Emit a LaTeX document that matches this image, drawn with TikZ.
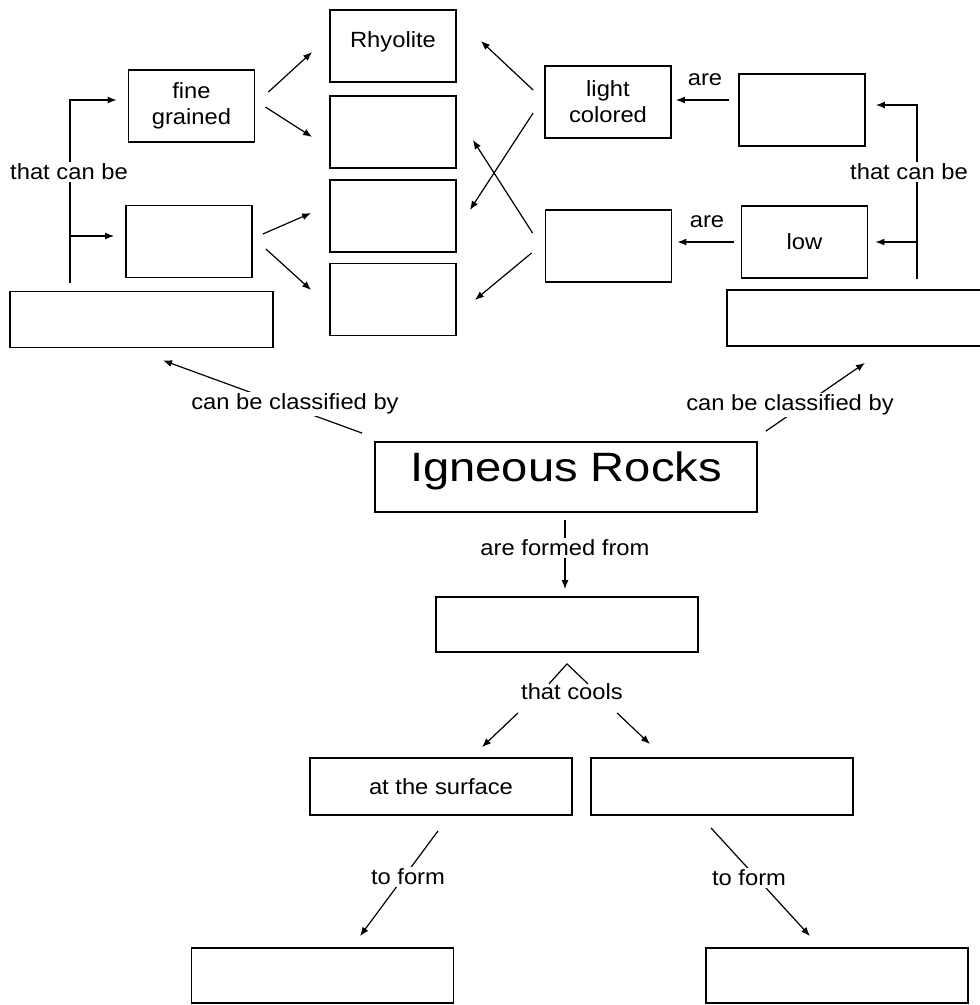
\documentclass[tikz,border=0pt]{standalone}
\usepackage{fontspec}
\setmainfont{Liberation Sans}[FakeStretch=1.08]
\newfontfamily\titlefont{Liberation Sans}[FakeStretch=1.15]
\usetikzlibrary{arrows.meta, calc}
\tikzset{
	conbox/.style={draw, line width=1.8pt, minimum width=126pt, minimum height=72pt, inner sep=0pt, align=center, font=\fontsize{22}{26}\selectfont},
	widebox/.style={conbox, minimum width=262pt, minimum height=56pt},
	linkarr/.style={-{Latex[length=9pt, width=7pt]}, line width=1.2pt},
	linkline/.style={line width=1.2pt},
	linklabel/.style={fill=white, inner sep=2pt, font=\fontsize{22}{26}\selectfont},
}

\begin{document}
\begin{tikzpicture}[x=1pt, y=-1pt]
	\useasboundingbox (0,0) rectangle (980,1005);
	\node[conbox] (fine) at (191.5,106) {fine\\grained};
	\node[conbox] (coarse) at (189,241.5) {};
	\node[widebox, minimum width=263pt] (texture) at (141.5,319.5) {};
	\node[conbox, text depth=12pt] (rhyolite) at (393,46) {Rhyolite};
	\node[conbox] (rockb) at (393,132) {};
	\node[conbox] (rockc) at (393,216) {};
	\node[conbox] (rockd) at (393,299.5) {};
	\node[conbox] (light) at (608,102) {light\\colored};
	\node[conbox] (dark) at (608.5,246) {};
	\node[conbox] (high) at (802,110) {};
	\node[conbox] (low) at (804.5,242) {low};
	\node[widebox, minimum width=263pt] (composition) at (858.5,318) {};
	\node[conbox, minimum width=382pt, minimum height=70pt, text depth=20pt, font=\titlefont\fontsize{41}{44}\selectfont] (igneous) at (566,477) {Igneous Rocks};
	\node[widebox, minimum height=55pt] (magma) at (567,624.5) {};
	\node[widebox, minimum height=57pt] (surface) at (441,786.5) {at the surface};
	\node[widebox, minimum height=57pt] (below) at (722,786.5) {};
	\node[widebox, minimum height=55pt] (extrusive) at (322.5,975.5) {};
	\node[widebox, minimum height=55pt] (intrusive) at (837,975.5) {};

	\draw[linkarr] ($(fine.east)+(13,-14)$) -- ($(rhyolite.west)+(-17,6)$);
	\draw[linkarr] ($(fine.east)+(10,1)$) -- ($(rockb.west)+(-17,5)$);
	\draw[linkarr] ($(coarse.east)+(10,-7.5)$) -- ($(rockc.west)+(-18,-3)$);
	\draw[linkarr] ($(coarse.east)+(13,7.5)$) -- ($(rockd.west)+(-18,-9.5)$);
	\draw[linkarr] ($(light.west)+(-11,-12)$) -- ($(rhyolite.east)+(24,-5)$);
	\draw[linkarr] ($(light.west)+(-11,11)$) -- ($(rockc.east)+(13,-6)$);
	\draw[linkarr] ($(dark.west)+(-12,-13)$) -- ($(rockb.east)+(16,8)$);
	\draw[linkarr] ($(dark.west)+(-13,7)$) -- ($(rockd.east)+(18,0.5)$);

	\draw[linkarr] ($(high.west)+(-9,-10)$) -- ($(light.east)+(4,-2)$);
	\node[font=\fontsize{22}{26}\selectfont] (are1) at (705,80) {are};
	\draw[linkarr] ($(low.west)+(-7,0)$) -- ($(dark.east)+(5,-4)$);
	\node[font=\fontsize{22}{26}\selectfont] (are2) at (707,222) {are};

	\coordinate (lsplit) at (70,236);
	\draw[linkarr] ($(texture.north)+(-71.5,-8)$) |- ($(fine.west)+(-11,-6)$);
	\draw[linkarr] (lsplit) -- ($(coarse.west)+(-11,-5.5)$);
	\node[linklabel] (lcan) at (69,172) {that can be};
	\coordinate (rsplit) at (917,242);
	\draw[linkarr] ($(composition.north)+(58.5,-10)$) |- ($(high.east)+(10,-5)$);
	\draw[linkarr] (rsplit) -- ($(low.east)+(7,0)$);
	\node[linklabel] (rcan) at (909,172) {that can be};

	\draw[linkarr] ($(igneous.north west)+(-12,-8)$) -- ($(texture.south)+(21.5,12)$);
	\node[linklabel] (lclass) at (295,404) {can be classified by};
	\draw[linkarr] ($(igneous.north east)+(8,-10)$) -- ($(composition.south)+(6.5,16)$);
	\node[linklabel] (rclass) at (790,405) {can be classified by};

	\draw[linkarr] ($(igneous.south)+(-1,7)$) -- ($(magma.north)+(-2,-7)$);
	\node[linklabel] (formed) at (565,548) {are formed from};

	\draw[linkline] ($(magma.south)+(-18,31)$) -- ($(magma.south)+(0,11)$) -- ($(magma.south)+(21,31)$);
	\node[font=\fontsize{22}{26}\selectfont] (cools) at (572,692) {that cools};
	\draw[linkarr] ($(magma.south)+(-49,60)$) -- ($(surface.north)+(41,-10)$);
	\draw[linkarr] ($(magma.south)+(50,60)$) -- ($(below.north)+(-72,-13)$);

	\draw[linkarr] ($(surface.south)+(-3,15)$) -- ($(extrusive.north)+(37.5,-11)$);
	\node[linklabel] (lform) at (408,877) {to form};
	\draw[linkarr] ($(below.south)+(-11,12)$) -- ($(intrusive.north)+(-27,-11)$);
	\node[linklabel] (rform) at (749,878) {to form};
\end{tikzpicture}
\end{document}
